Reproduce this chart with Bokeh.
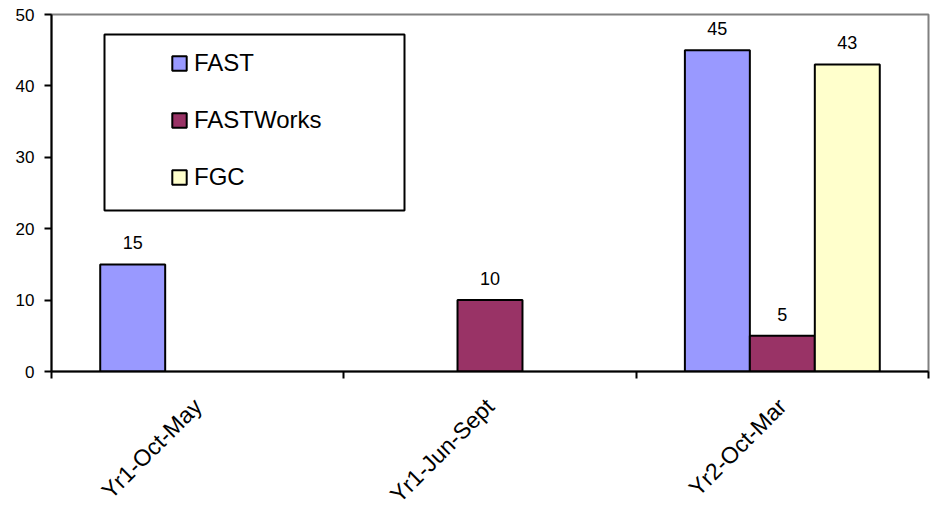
import math
from bokeh.plotting import figure
from bokeh.models import (ColumnDataSource, FixedTicker, Legend, LegendItem,
                          BoxAnnotation, Range1d)
from bokeh.core.properties import value
from bokeh.embed import file_html
from bokeh.resources import INLINE

# ---- data ----
categories = ["Yr1-Oct-May", "Yr1-Jun-Sept", "Yr2-Oct-Mar"]
series_names = ["FAST", "FASTWorks", "FGC"]
fast_values = [15, None, 45]
fastworks_values = [None, 10, 5]
fgc_values = [None, None, 43]
series_colors = ["#9999FF", "#993366", "#FFFFCC"]
y_ticks = [0, 10, 20, 30, 40, 50]

all_values = [fast_values, fastworks_values, fgc_values]
FONT = "Liberation Sans"

p = figure(width=930, height=519, output_backend="svg", toolbar_location=None,
           x_range=Range1d(0, len(categories)), y_range=Range1d(0, 50),
           min_border_left=51, min_border_right=2, min_border_top=14,
           min_border_bottom=148)
p.grid.visible = False
p.outline_line_color = "#808080"
p.outline_line_width = 2

bar_w = 1.0 / 4.5
renderers = []
for j, (name, vals, col) in enumerate(zip(series_names, all_values, series_colors)):
    xs, ys = [], []
    for i, v in enumerate(vals):
        if v is not None:
            xs.append(i + 0.5 + (j - 1) * bar_w)
            ys.append(v)
    src = ColumnDataSource(dict(x=xs, top=ys, lab=[str(v) for v in ys]))
    r = p.vbar(x="x", top="top", bottom=0, width=bar_w, source=src,
               fill_color=col, line_color="black", line_width=2)
    renderers.append(r)
    p.text(x="x", y="top", text="lab", source=src, text_align="center",
           text_baseline="bottom", y_offset=-15, text_font_size="18px",
           text_font=value(FONT), text_color="black")

# x axis
xa = p.xaxis[0]
xa.ticker = FixedTicker(ticks=[i + 0.5 for i in range(len(categories))],
                        minor_ticks=list(range(len(categories) + 1)))
xa.major_label_overrides = {i + 0.5: c for i, c in enumerate(categories)}
xa.major_tick_line_color = None
xa.major_tick_out = 0
xa.major_tick_in = 0
xa.minor_tick_line_color = "black"
xa.minor_tick_line_width = 2
xa.minor_tick_out = 7
xa.minor_tick_in = 0
xa.major_label_orientation = math.pi / 4
xa.major_label_text_font = FONT
xa.major_label_text_font_size = "23px"
xa.major_label_text_color = "black"
xa.major_label_standoff = 24
xa.axis_line_color = "black"
xa.axis_line_width = 2

ya = p.yaxis[0]
ya.ticker = FixedTicker(ticks=y_ticks)
ya.minor_tick_line_color = None
ya.major_tick_out = 7
ya.major_tick_in = 0
ya.major_tick_line_width = 2
ya.major_tick_line_color = "black"
ya.axis_line_color = "black"
ya.axis_line_width = 2
ya.major_label_text_font = FONT
ya.major_label_text_font_size = "17px"
ya.major_label_text_color = "black"
ya.major_label_standoff = 10

# legend frame
p.add_layout(BoxAnnotation(left=53, right=353, top=337, bottom=161,
                           left_units="screen", right_units="screen",
                           top_units="screen", bottom_units="screen",
                           fill_alpha=0, line_color="black", line_width=2,
                           line_alpha=1))

legend = Legend(items=[LegendItem(label=n, renderers=[r]) for n, r in zip(series_names, renderers)],
                location=(119, 180), padding=0, margin=0, border_line_alpha=0,
                background_fill_alpha=0, glyph_width=18, glyph_height=18,
                label_standoff=6, label_height=28, spacing=29,
                label_text_font=FONT, label_text_font_size="24px",
                label_text_color="black")
p.add_layout(legend, "center")

open("out.html", "w").write(file_html(p, INLINE))
